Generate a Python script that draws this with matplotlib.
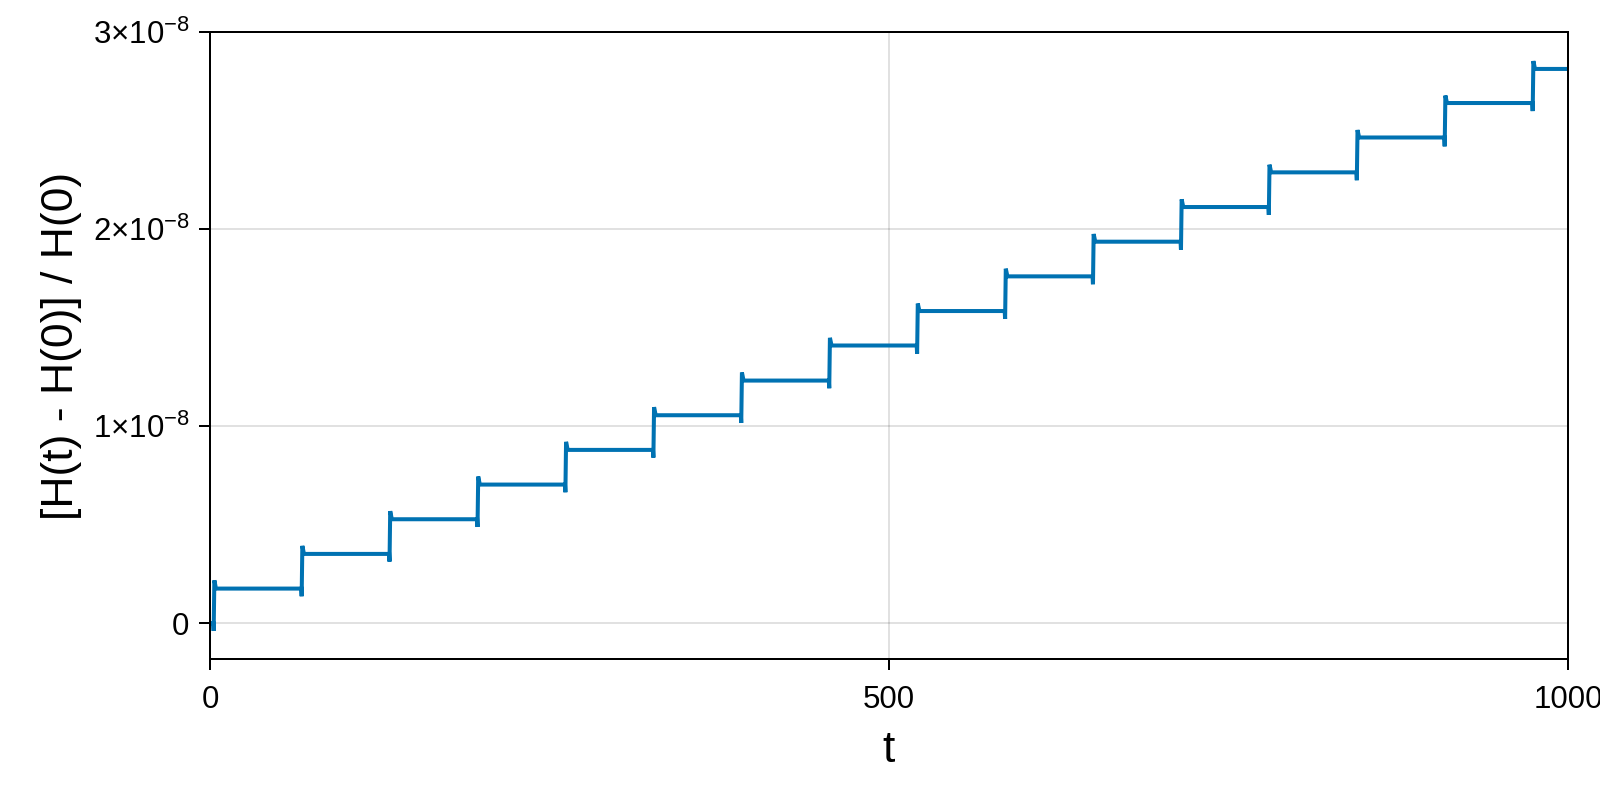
import numpy as np
import matplotlib
matplotlib.use("Agg")
import matplotlib.pyplot as plt
from matplotlib.ticker import FixedLocator, FixedFormatter

# times (t) where the energy error jumps
step_t = [2.4, 67.2, 131.9, 196.7, 261.4, 326.2, 390.9, 455.7,
          520.4, 585.2, 649.9, 714.7, 779.4, 844.2, 908.9, 973.7]
# plateau values (units of 1e-8), one more than the number of jumps
levels = [0.0, 0.176, 0.352, 0.528, 0.704, 0.880, 1.056, 1.232, 1.410,
          1.585, 1.761, 1.937, 2.113, 2.289, 2.466, 2.641, 2.814]
# lowest and highest value reached during each jump (units of 1e-8)
spike_low = [-0.039, 0.137, 0.313, 0.489, 0.665, 0.841, 1.017, 1.193,
             1.369, 1.545, 1.721, 1.897, 2.073, 2.249, 2.421, 2.600]
spike_high = [0.218, 0.393, 0.569, 0.745, 0.921, 1.097, 1.273, 1.449,
              1.623, 1.800, 1.976, 2.152, 2.328, 2.504, 2.679, 2.854]

x_ticks = [0, 500, 1000]
x_ticklabels = ["0", "500", "1000"]
y_ticks = [0, 1e-8, 2e-8, 3e-8]
y_ticklabels = ["0", r"$1{\times}10^{-8}$", r"$2{\times}10^{-8}$", r"$3{\times}10^{-8}$"]

plt.rcParams["font.family"] = ["Liberation Sans", "DejaVu Sans"]
plt.rcParams["mathtext.fontset"] = "custom"
plt.rcParams["mathtext.rm"] = "Liberation Sans"
plt.rcParams["mathtext.it"] = "Liberation Sans:italic"
plt.rcParams["mathtext.default"] = "regular"

# build the path: plateau, small dip, overshoot, settle on the next plateau
t = [0.0]
h = [levels[0]]
for i, ts in enumerate(step_t):
    t += [ts, ts + 0.3, ts + 0.8, ts + 2.0]
    h += [levels[i], spike_low[i], spike_high[i], levels[i + 1]]
t.append(1000.0)
h.append(levels[-1])
t = np.array(t)
h = np.array(h) * 1e-8

fig = plt.figure(figsize=(16, 8), dpi=100)
ax = fig.add_axes([210 / 1600, 1 - 659.3 / 800, 1358 / 1600, 627 / 800])

ax.plot(t, h, color="#0072B2", lw=2.9, solid_joinstyle="miter")

ax.set_xlim(0, 1000)
ax.set_ylim(-0.183e-8, 3.0e-8)

ax.xaxis.set_major_locator(FixedLocator(x_ticks))
ax.xaxis.set_major_formatter(FixedFormatter(x_ticklabels))
ax.yaxis.set_major_locator(FixedLocator(y_ticks))
ax.yaxis.set_major_formatter(FixedFormatter(y_ticklabels))

ax.grid(True, color="#000000", alpha=0.12, lw=1.4)
ax.set_axisbelow(True)
for s in ax.spines.values():
    s.set_linewidth(1.44)
    s.set_color("black")
ax.tick_params(axis="both", length=7.7, width=1.44, labelsize=22.5)
ax.tick_params(axis="x", pad=10.5)
ax.tick_params(axis="y", pad=7)

ax.set_xlabel("t", fontsize=32, va="baseline")
ax.xaxis.set_label_coords(0.5, -0.1633)
ax.set_ylabel("[H(t) - H(0)] / H(0)", fontsize=32, va="baseline")
ax.yaxis.set_label_coords(-0.1011, 0.5)

fig.savefig("out.png", dpi=100)
